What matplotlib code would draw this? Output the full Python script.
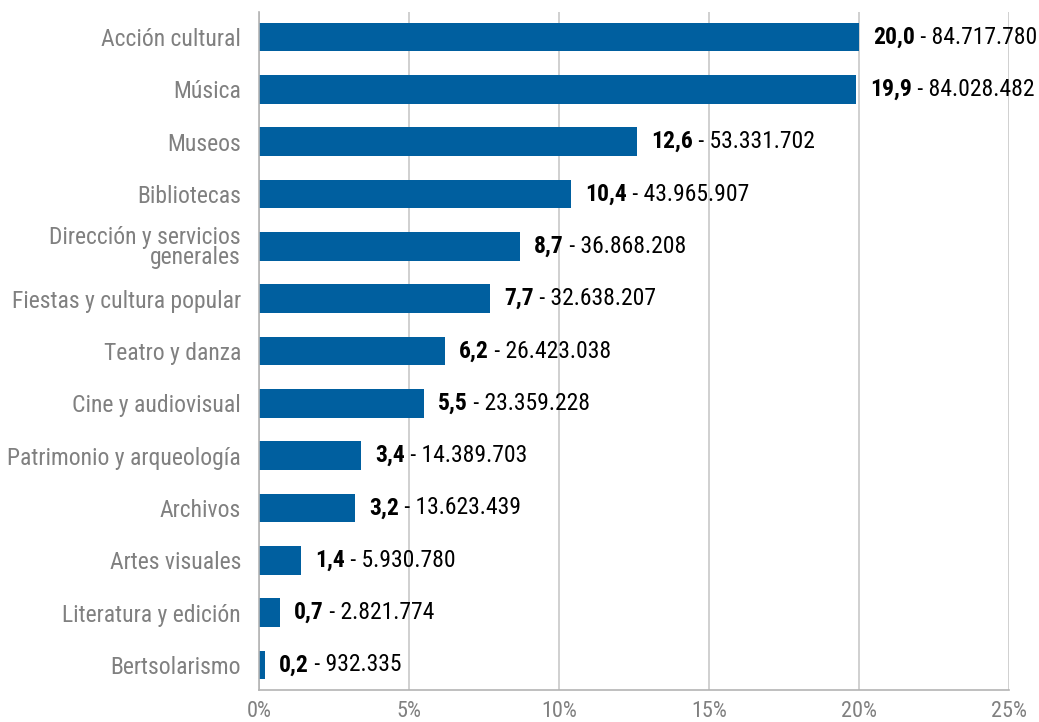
import matplotlib.pyplot as plt

plt.rcParams['font.family'] = ['Roboto Condensed', 'DejaVu Sans']

categorias = ["Acción cultural", "Música", "Museos", "Bibliotecas",
              "Dirección y servicios\ngenerales", "Fiestas y cultura popular",
              "Teatro y danza", "Cine y audiovisual", "Patrimonio y arqueología",
              "Archivos", "Artes visuales", "Literatura y edición", "Bertsolarismo"]
porcentajes = [20.0, 19.9, 12.6, 10.4, 8.7, 7.7, 6.2, 5.5, 3.4, 3.2, 1.4, 0.7, 0.2]
importes = ["84.717.780", "84.028.482", "53.331.702", "43.965.907", "36.868.208",
            "32.638.207", "26.423.038", "23.359.228", "14.389.703", "13.623.439",
            "5.930.780", "2.821.774", "932.335"]
ticks = [0, 5, 10, 15, 20, 25]

fig = plt.figure(figsize=(10.39, 7.22), dpi=100)
ax = fig.add_axes([259/1039, 32/722, 750/1039, 678/722])

y = list(range(len(categorias)))
ax.barh(y, porcentajes, height=0.55, color="#005f9f", zorder=2)
ax.set_ylim(len(categorias) - 0.52, -0.48)
ax.set_xlim(0, 25)
ax.set_yticks(y)
ax.set_yticklabels(categorias, fontsize=17, color="#808080", linespacing=0.82)
ax.set_xticks(ticks)
ax.set_xticklabels([f"{t}%" for t in ticks], fontsize=16, color="#808080")
ax.tick_params(length=0)
ax.tick_params(axis='y', pad=13)
ax.tick_params(axis='x', pad=8)
ax.grid(axis='x', color="#c8c8c8", linewidth=1.2, zorder=0)
for s in ["top", "right"]:
    ax.spines[s].set_visible(False)
for s in ["left", "bottom"]:
    ax.spines[s].set_color("#b4b4b4")
    ax.spines[s].set_linewidth(1.2)

for yi, p, imp in zip(y, porcentajes, importes):
    t = ax.annotate(f"{p:.1f}".replace(".", ","), (p, yi), xytext=(10, 0),
                    textcoords="offset points", va="center", ha="left",
                    fontsize=17, fontweight="bold", color="black", zorder=3)
    ax.annotate(f" - {imp}", xy=(1, 0.5), xycoords=t, va="center", ha="left",
                fontsize=17, color="black", zorder=3)

fig.savefig("out.png", dpi=100)
